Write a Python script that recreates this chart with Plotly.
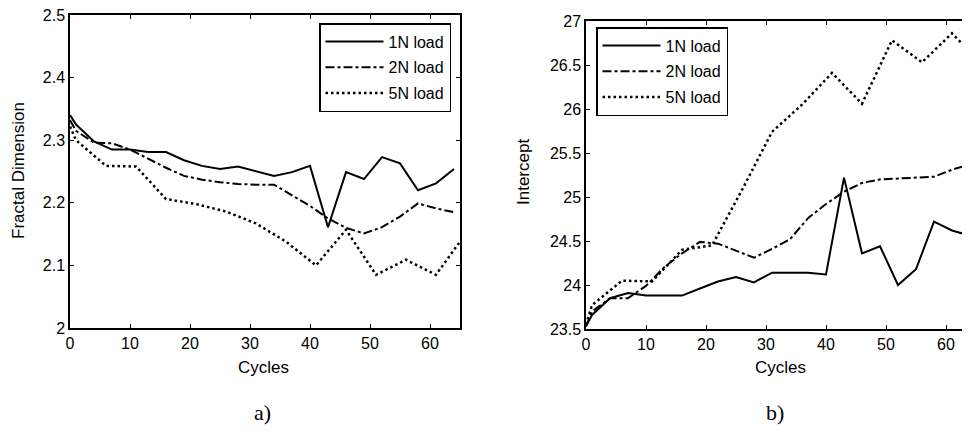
import plotly.graph_objects as go

# ---- data ----
cycles = [0, 1, 4, 7, 10, 13, 16, 19, 22, 25, 28, 31, 34, 37, 40, 43, 46, 49, 52, 55, 58, 61, 64]
cycles_5n = [0, 1, 6, 11, 16, 21, 26, 31, 36, 41, 46, 51, 56, 61, 65]

fd_1n = [2.340, 2.325, 2.298, 2.285, 2.285, 2.281, 2.281, 2.268, 2.259, 2.254, 2.258, 2.251,
         2.243, 2.249, 2.259, 2.161, 2.249, 2.238, 2.273, 2.263, 2.220, 2.231, 2.254]
fd_2n = [2.332, 2.315, 2.296, 2.295, 2.285, 2.270, 2.256, 2.243, 2.237, 2.233, 2.230, 2.229,
         2.229, 2.212, 2.195, 2.175, 2.160, 2.151, 2.161, 2.178, 2.199, 2.191, 2.185]
fd_5n = [2.322, 2.300, 2.259, 2.258, 2.206, 2.198, 2.186, 2.167, 2.138, 2.100, 2.157, 2.085,
         2.109, 2.085, 2.138]

int_1n = [23.53, 23.66, 23.85, 23.91, 23.88, 23.88, 23.88, 23.96, 24.04, 24.09, 24.03, 24.14,
          24.14, 24.14, 24.12, 25.22, 24.36, 24.44, 24.00, 24.18, 24.72, 24.62, 24.56]
int_2n = [23.53, 23.70, 23.85, 23.85, 23.99, 24.20, 24.36, 24.49, 24.47, 24.39, 24.31, 24.41,
          24.52, 24.76, 24.92, 25.06, 25.16, 25.20, 25.21, 25.22, 25.23, 25.31, 25.37]
int_5n = [23.55, 23.77, 24.05, 24.04, 24.40, 24.45, 25.08, 25.74, 26.05, 26.41, 26.06, 26.78,
          26.53, 26.86, 26.58]

series_names = ["1N load", "2N load", "5N load"]
x_ticks = [0, 10, 20, 30, 40, 50, 60]
fd_ticks = [2, 2.1, 2.2, 2.3, 2.4, 2.5]
int_ticks = [23.5, 24, 24.5, 25, 25.5, 26, 26.5, 27]

# ---- styling ----
OFF = 8                      # default body margin of the html page
W, H = 970 - OFF, 432 - OFF
FONT = "Liberation Sans, Arial, sans-serif"
SERIF = "Liberation Serif, Times New Roman, serif"
dashes = ["solid", "9px,3px,3px,3px", "2.5px,3px"]
widths = [2, 2, 2.5]

fig = go.Figure()

left = [(cycles, fd_1n), (cycles, fd_2n), (cycles_5n, fd_5n)]
right = [(cycles, int_1n), (cycles, int_2n), (cycles_5n, int_5n)]

for i, (xs, ys) in enumerate(left):
    fig.add_trace(go.Scatter(x=xs, y=ys, mode="lines", name=series_names[i],
                             line=dict(color="black", width=widths[i], dash=dashes[i]),
                             xaxis="x", yaxis="y", legend="legend", legendgroup=f"a{i}"))
for i, (xs, ys) in enumerate(right):
    fig.add_trace(go.Scatter(x=xs, y=ys, mode="lines", name=series_names[i],
                             line=dict(color="black", width=widths[i], dash=dashes[i]),
                             xaxis="x2", yaxis="y2", legend="legend2", legendgroup=f"b{i}"))

def px_x(p):
    return min(1.0, (p - OFF) / W)

def px_y(p):
    return 1 - (p - OFF) / H

axis_common = dict(showline=True, linecolor="black", linewidth=1.5, ticks="inside",
                   ticklen=4, tickwidth=1, tickcolor="black", showgrid=False, zeroline=False,
                   automargin=False, ticklabeloverflow="allow",
                   tickfont=dict(family=FONT, size=16, color="black"))

def label(text, x, y, angle=0, size=17, family=FONT):
    return dict(text=text, x=px_x(x), y=px_y(y), xref="paper", yref="paper",
                xanchor="center", yanchor="middle", textangle=angle,
                showarrow=False, font=dict(family=family, size=size, color="black"))

legend_common = dict(bgcolor="white", bordercolor="black", borderwidth=1.5,
                     font=dict(family=FONT, size=16, color="black"),
                     itemwidth=58, tracegroupgap=2)

fig.update_layout(
    width=W, height=H, autosize=False,
    margin=dict(l=0, r=0, t=0, b=0, pad=0),
    paper_bgcolor="white", plot_bgcolor="white",
    font=dict(family=FONT, color="black"),
    xaxis=dict(domain=[px_x(70), px_x(460)], range=[0, 65], tickvals=x_ticks,
               mirror="ticks", anchor="y", **axis_common),
    yaxis=dict(domain=[px_y(328), px_y(15)], range=[2, 2.5], tickvals=fd_ticks,
               mirror="ticks", anchor="x", **axis_common),
    xaxis2=dict(domain=[px_x(586), 1.0], range=[0, 64], tickvals=x_ticks,
                mirror="ticks", anchor="y2", **axis_common),
    yaxis2=dict(domain=[px_y(329), px_y(21)], range=[23.5, 27], tickvals=int_ticks,
                mirror=False, anchor="x2", **axis_common),
    legend=dict(x=px_x(451), xanchor="right", y=px_y(23), yanchor="top", **legend_common),
    legend2=dict(x=px_x(596), xanchor="left", y=px_y(27), yanchor="top", **legend_common),
    annotations=[
        label("Cycles", 263, 367),
        label("Cycles", 780, 367),
        label("Fractal Dimension", 18, 171, angle=-90),
        label("Intercept", 523, 172, angle=-90),
        label("a)", 262, 412, size=22, family=SERIF),
        label("b)", 775, 412, size=22, family=SERIF),
    ],
)

fig.write_html("out.html")
